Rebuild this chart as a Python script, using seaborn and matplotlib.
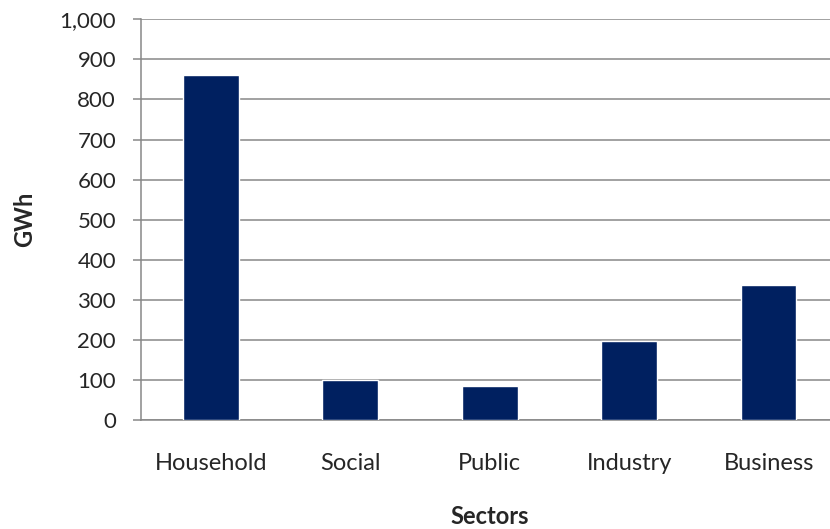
import matplotlib
matplotlib.use("Agg")
import matplotlib.pyplot as plt
import seaborn as sns
import pandas as pd
import numpy as np
from matplotlib.ticker import FuncFormatter, FixedLocator

# data
sectors = ["Household", "Social", "Public", "Industry", "Business"]
gwh = [862, 100, 86, 197, 337]

bar_color = "#002060"
grid_color = "#878787"

sns.set_style("white")
plt.rcParams['font.family'] = ['Lato', 'DejaVu Sans']
fs_y = 16
fs_x = 17
fs_lab = 17

df = pd.DataFrame({"Sector": sectors, "GWh": gwh})

fig = plt.figure(figsize=(8.30, 5.29), dpi=100)
ax = fig.add_axes([0.170, 0.206, 0.840, 0.7575])

sns.barplot(data=df, x="Sector", y="GWh", color=bar_color, width=0.4,
            saturation=1, ax=ax, zorder=3)

ax.set_xlim(-0.5, len(sectors) - 0.5)
ax.set_ylim(0, 1000)
ax.set_yticks(np.arange(0, 1001, 100))
ax.yaxis.set_major_formatter(FuncFormatter(lambda v, p: f"{int(v):,}"))
ax.yaxis.grid(True, color=grid_color, linewidth=1.1, zorder=0)
ax.set_axisbelow(True)

# Excel-style: tick marks between categories
ax.xaxis.set_minor_locator(FixedLocator(np.arange(-0.5, len(sectors), 1.0)))
ax.tick_params(axis="x", which="major", length=0, pad=24, labelsize=fs_x)
ax.tick_params(axis="x", which="minor", length=6, width=1.1, color=grid_color, direction="out")
ax.tick_params(axis="y", length=6, width=1.1, color=grid_color, direction="out",
               left=True, pad=12, labelsize=fs_y)

for side in ["top", "right"]:
    ax.spines[side].set_visible(False)
for side in ["left", "bottom"]:
    ax.spines[side].set_color(grid_color)
    ax.spines[side].set_linewidth(1.1)

ax.set_xlabel("Sectors", fontsize=fs_lab, fontweight="bold")
ax.set_ylabel("GWh", fontsize=fs_lab, fontweight="bold")
ax.xaxis.set_label_coords(0.5, -0.212)
ax.yaxis.set_label_coords(-0.151, 0.5)

fig.savefig("out.png", dpi=100)
